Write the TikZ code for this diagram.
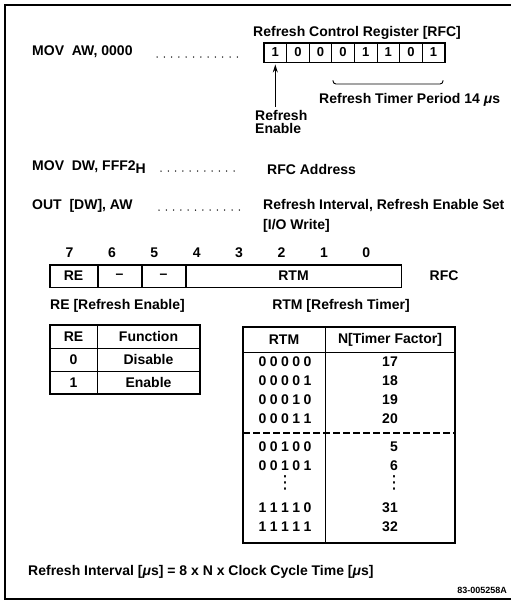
\documentclass[tikz,border=0pt]{standalone}
\usepackage{fontspec}
\setmainfont{Liberation Sans}
\newfontfamily\symfont{DejaVu Sans}
\usetikzlibrary{positioning, arrows.meta}
\newcommand\rtmbits[5]{#1\kern3.5pt#2\kern3.5pt#3\kern3.5pt#4\kern3.5pt#5}
\tikzset{
  lbl/.style={font=\fontsize{14}{16}\selectfont\bfseries, inner sep=0pt},
  bitcell/.style={lbl, draw, line width=0.9pt, minimum width=22.6pt, minimum height=19pt, font=\fontsize{13}{15}\selectfont\bfseries},
  field/.style={lbl, draw, line width=1pt, minimum height=22pt},
  leader/.style={line width=1.5pt, line cap=round, dash pattern=on 0pt off 7.3pt},
  vdts/.style={inner sep=0pt, font=\fontsize{18}{18}\selectfont\symfont},
}
\begin{document}
\begin{tikzpicture}[x=1pt, y=-1pt]
    \useasboundingbox (0,0) rectangle (511,605);
    % Frame
    \draw[line width=1.2pt] (511,5) -- (5,5) -- (5,599) -- (511,599);
    % "MOV AW" line and register value
    \node[lbl, anchor=west] (movaw) at (32,52) {MOV\ \ AW, 0000};
    \draw[leader] (157,57) -- (241,57);
    \node[lbl, anchor=west] (rfctitle) at (253,33) {Refresh Control Register [RFC]};
    \foreach \b [count=\i from 0] in {1,0,0,0,1,1,0,1}
        \node[bitcell] (c\i) at (275.3+22.6*\i,52.5) {\b};
    \draw[line width=1.6pt] (c0.north west) rectangle (c7.south east);
    % Refresh enable bit
    \node[lbl, anchor=north west, align=left, font=\fontsize{14}{13}\selectfont\bfseries] (reen) at (255,110) {Refresh\\Enable};
    \draw[->, >={Stealth[length=8pt, width=5pt]}, line width=1pt, shorten >=2pt, shorten <=3pt] (c0.south |- reen.north) -- (c0.south);
    % Timer period bracket
    \draw[line width=0.9pt, rounded corners=3pt] (333,80) -- (333,84) -- (443,84) -- (443,80);
    \node[lbl, anchor=west] (period) at (319,100) {Refresh Timer Period 14 {\itshape μ}s};
    % "MOV DW" line
    \node[lbl, anchor=west] (movdw) at (32,167) {MOV\ \ DW, FFF2\raisebox{-3pt}{H}};
    \draw[leader] (161,171) -- (241,171);
    \node[lbl, anchor=west] (rfcaddr) at (267,169) {RFC Address};
    % "OUT" line
    \node[lbl, anchor=west] (outdw) at (32,206) {OUT\ \ [DW], AW};
    \draw[leader] (159,210) -- (241,210);
    \node[lbl, anchor=west] (interval) at (263,206) {Refresh Interval, Refresh Enable Set};
    \node[lbl, below=7pt of interval.south west, anchor=north west] (iowrite) {[I/O Write]};
    % Bit numbers
    \foreach \n [count=\k from 0] in {7,...,0}
        \node[lbl] (bit\n) at (69.5+42.4*\k,253) {\n};
    % RFC fields
    \node[field, minimum width=47pt] (fre) at (73.5,276) {RE};
    \node[field, minimum width=43pt, right=0pt of fre] (fxa) {--};
    \node[field, minimum width=43pt, right=0pt of fxa] (fxb) {--};
    \node[field, minimum width=215pt, right=0pt of fxb] (frtm) {RTM};
    \draw[line width=1.6pt] (fre.north west) rectangle (frtm.south east);
    \node[lbl, right=28pt of frtm] (rfc) {RFC};
    % RE table
    \node[lbl, anchor=west] (retitle) at (50,306) {RE [Refresh Enable]};
    \draw[line width=1.6pt] (50,325) rectangle (200,394);
    \draw[line width=0.9pt] (97,325) -- (97,394) (50,348) -- (200,348) (50,371) -- (200,371);
    \foreach \re/\fn/\y [count=\r] in {RE/Function/336.5, 0/Disable/359.5, 1/Enable/382.5} {
        \node[lbl] (re\r) at (73.5,\y) {\re};
        \node[lbl] (fn\r) at (148.5,\y) {\fn};
    }
    % RTM table
    \node[lbl] (rtmtitle) at (341,306) {RTM [Refresh Timer]};
    \draw[line width=1.6pt] (243,327) rectangle (455,543);
    \draw[line width=0.9pt] (325,327) -- (325,543) (243,352) -- (455,352);
    \draw[line width=1.2pt, dash pattern=on 7pt off 3pt] (243,433) -- (455,433);
    \node[lbl] (rtmhead) at (284,340) {RTM};
    \node[lbl] (nhead) at (390,340) {N[Timer Factor]};
    \foreach \code/\n/\y [count=\r] in {00000/17/362, 00001/18/381, 00010/19/400, 00011/20/419,
                                          00100/5/447, 00101/6/466, 11110/31/508, 11111/32/527} {
        \node[lbl] (code\r) at (285,\y) {\expandafter\rtmbits\code};
        \node[lbl, anchor=east] (n\r) at (398,\y) {\n};
    }
    \node[vdts] (vda) at (285,483) {⋮};
    \node[vdts] (vdb) at (394,483) {⋮};
    % Formula
    \node[lbl, anchor=west] (formula) at (28,572) {Refresh Interval [{\itshape μ}s] = 8 x N x Clock Cycle Time [{\itshape μ}s]};
    \node[lbl, anchor=east, font=\fontsize{9}{10}\selectfont\bfseries] (figcode) at (507,590) {83-005258A};
\end{tikzpicture}
\end{document}
